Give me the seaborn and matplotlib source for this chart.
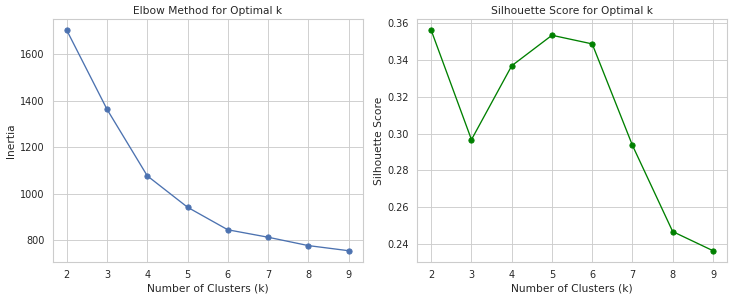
import numpy as np
import pandas as pd
import matplotlib
matplotlib.use('Agg')
import matplotlib.pyplot as plt
import seaborn as sns

k_values = [2, 3, 4, 5, 6, 7, 8, 9]
inertia = [1703, 1363, 1077, 942, 845, 813, 777, 755]
silhouette = [0.3562, 0.2967, 0.3369, 0.3535, 0.3488, 0.2936, 0.2467, 0.2363]

sns.set_theme(style='whitegrid')

df = pd.DataFrame({'k': k_values, 'inertia': inertia, 'silhouette': silhouette})

dpi = 63.5
fig, axes = plt.subplots(1, 2, figsize=(734 / dpi, 299 / dpi), dpi=dpi)
fig.subplots_adjust(left=0.0718, right=0.9905, bottom=0.1247, top=0.9355, wspace=0.176)

ax = axes[0]
sns.lineplot(data=df, x='k', y='inertia', marker='o', color='#4c72b0',
             markeredgecolor='#4c72b0', markeredgewidth=1, ax=ax)
ax.set_title('Elbow Method for Optimal k')
ax.set_xlabel('Number of Clusters (k)')
ax.set_ylabel('Inertia')
ax.set_xticks(k_values)

ax = axes[1]
sns.lineplot(data=df, x='k', y='silhouette', marker='o', color='green',
             markeredgecolor='green', markeredgewidth=1, ax=ax)
ax.set_title('Silhouette Score for Optimal k')
ax.set_xlabel('Number of Clusters (k)')
ax.set_ylabel('Silhouette Score')
ax.set_xticks(k_values)

plt.savefig('out.png', dpi=dpi)
